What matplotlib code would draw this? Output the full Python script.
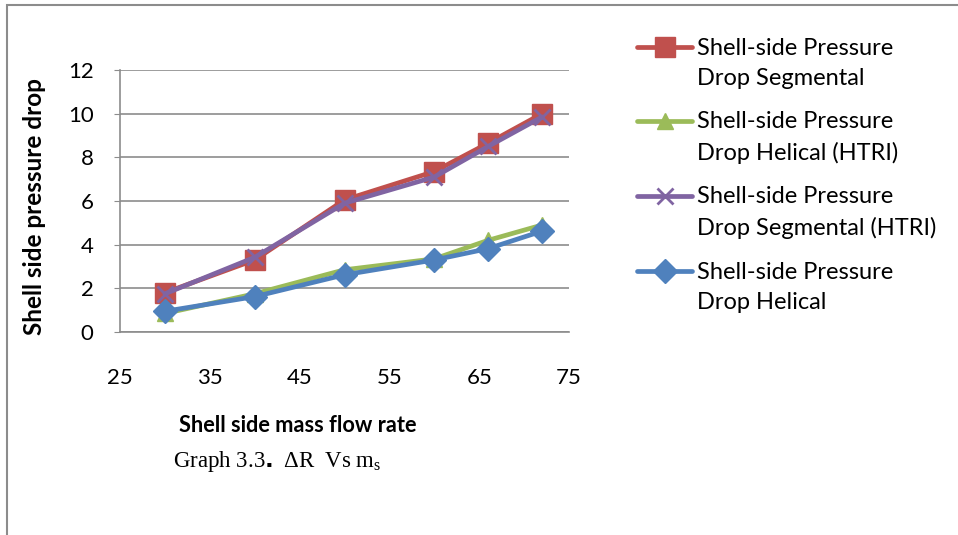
import matplotlib.pyplot as plt
from matplotlib.lines import Line2D
from matplotlib.patches import Rectangle

plt.rcParams['font.family'] = ['Lato', 'DejaVu Sans']

# shell side mass flow rate
flow = [30, 40, 50, 60, 66, 72]

seg = [1.8, 3.3, 6.05, 7.35, 8.65, 10.0]
hel_htri = [0.85, 1.75, 2.85, 3.35, 4.2, 4.9]
seg_htri = [1.75, 3.42, 5.9, 7.1, 8.5, 9.85]
hel = [0.95, 1.62, 2.62, 3.3, 3.82, 4.62]

names = ["Shell-side Pressure\nDrop Segmental",
         "Shell-side Pressure\nDrop Helical (HTRI)",
         "Shell-side Pressure\nDrop Segmental (HTRI)",
         "Shell-side Pressure\nDrop Helical"]
colors = ['#C0504D', '#9BBB59', '#8064A2', '#4F81BD']
markers = ['s', '^', 'x', 'D']
msizes = [14, 12, 12, 12]

W, H = 958, 535
fig = plt.figure(figsize=(W / 100, H / 100), dpi=100)
ax = fig.add_axes([120 / W, 1 - 332 / H, 449 / W, 262 / H])

series = [seg, hel_htri, seg_htri, hel]
for vals, c, m, ms in zip(series, colors, markers, msizes):
    ax.plot(flow, vals, color=c, lw=3.4, marker=m, markersize=ms,
            markeredgewidth=2 if m == 'x' else 1, markeredgecolor=c,
            solid_joinstyle='round', solid_capstyle='round')

ax.set_xlim(25, 75)
ax.set_ylim(0, 12)
ax.set_xticks(range(25, 76, 10))
ax.set_yticks(range(0, 13, 2))
ax.grid(axis='y', color='#8c8c8c', lw=1.2)
ax.set_axisbelow(True)
for s in ['top', 'right']:
    ax.spines[s].set_visible(False)
for s in ['left', 'bottom']:
    ax.spines[s].set_color('#8c8c8c')
    ax.spines[s].set_linewidth(1.2)
ax.tick_params(axis='y', length=4, color='#8c8c8c', labelsize=16, pad=15)
ax.tick_params(axis='x', length=0, labelsize=16, pad=26)

fig.text(35 / W, 1 - 207 / H, "Shell side pressure drop", rotation=90,
         ha='center', va='center', fontsize=17.5, fontweight='bold')
fig.text(298 / W, 1 - 426 / H, "Shell side mass flow rate",
         ha='center', va='center', fontsize=15.7, fontweight='bold')
fig.text(277 / W, 1 - 461 / H, r"Graph 3.3$\mathbf{.}$ ΔR  Vs m$_\mathregular{s}$",
         ha='center', va='center', fontsize=16.5, family='Liberation Serif')

# legend
ys = [47, 121, 196, 271]
for y, name, c, m, ms in zip(ys, names, colors, markers, msizes):
    fy = 1 - y / H
    fig.add_artist(Line2D([637 / W, 664.5 / W, 692 / W], [fy, fy, fy],
                          transform=fig.transFigure, color=c, lw=3.4,
                          marker=m, markersize=ms, markevery=[1],
                          markeredgecolor=c,
                          markeredgewidth=2 if m == 'x' else 1,
                          solid_capstyle='round'))
    fig.text(697 / W, 1 - (y + 16.5) / H, name, ha='left', va='center',
             fontsize=17, linespacing=1.55)

fig.add_artist(Rectangle((7 / W, -0.1), 1.2, 1 - 5 / H + 0.1,
                         transform=fig.transFigure, fill=False,
                         edgecolor='#8c8c8c', lw=1.5))

fig.savefig('out.png', dpi=100)
